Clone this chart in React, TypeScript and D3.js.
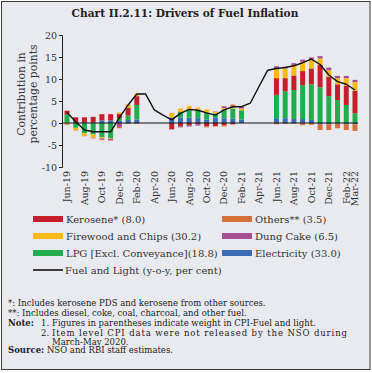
import { useEffect, useRef } from 'react';
import * as d3 from 'd3';

const months = [
  'Jun-19', 'Jul-19', 'Aug-19', 'Sep-19', 'Oct-19', 'Nov-19', 'Dec-19', 'Jan-20', 'Feb-20',
  'Mar-20', 'Apr-20', 'May-20', 'Jun-20', 'Jul-20', 'Aug-20', 'Sep-20', 'Oct-20', 'Nov-20',
  'Dec-20', 'Jan-21', 'Feb-21', 'Mar-21', 'Apr-21', 'May-21', 'Jun-21', 'Jul-21', 'Aug-21',
  'Sep-21', 'Oct-21', 'Nov-21', 'Dec-21', 'Jan-22', 'Feb-22', 'Mar-22',
];

const tickMonths = [
  'Jun-19', 'Aug-19', 'Oct-19', 'Dec-19', 'Feb-20', 'Apr-20', 'Jun-20', 'Aug-20', 'Oct-20',
  'Dec-20', 'Feb-21', 'Apr-21', 'Jun-21', 'Aug-21', 'Oct-21', 'Dec-21', 'Feb-22', 'Mar-22',
];

const yTicks = [-10, -5, 0, 5, 10, 15, 20];

// item level contributions (null = data not available)
const electricity = [0.1, 0.1, 0.1, 0.1, 0.6, 0.6, 0.5, 0.7, 0.8, null, null, null, 1.2, 1.2, 1.2, 1.1, 0.8, 1.3, 1.1, 1.0, 0.8, null, null, null, 1.1, 1.1, 0.9, 0.9, 0.7, -0.3, -0.3, -0.2, -0.3, -0.3];
const lpg = [1.8, -1.1, -2.3, -2.6, -3.2, -3.5, 0.6, 1.0, 3.3, null, null, null, 0.1, 1.3, 1.8, 1.9, 1.5, 0.9, 1.9, 2.3, 2.1, null, null, null, 5.3, 6.1, 6.6, 7.7, 8.1, 8.1, 6.1, 5.2, 4.1, 2.2];
const kerosene = [0.9, 1.2, 1.2, 1.3, 1.4, 1.4, 1.0, 1.7, 2.0, null, null, null, -1.4, -0.8, -0.6, -0.3, -0.8, -0.7, -0.5, -0.3, 0.0, null, null, null, 3.8, 3.0, 3.3, 3.2, 3.6, 5.1, 4.4, 3.6, 4.4, 5.1];
const firewood = [-0.2, -0.5, -0.6, -0.7, -0.3, -0.1, 0.3, 0.9, 0.6, null, null, null, 0.9, 0.8, 0.9, 0.5, 0.8, 0.3, 0.4, 0.5, 0.4, null, null, null, 2.3, 2.2, 2.3, 2.1, 2.1, 1.5, 1.5, 1.4, 1.7, 2.0];
const dungCake = [0.0, 0.0, 0.0, 0.0, -0.3, -0.3, -0.9, 0.0, 0.0, null, null, null, -0.1, -0.2, -0.2, -0.3, 0.0, 0.1, 0.4, 0.0, 0.4, null, null, null, 0.4, 0.4, 0.5, 0.5, 0.4, 0.5, 0.6, 0.5, 0.5, 0.5];
const others = [-0.2, -0.1, -0.1, -0.2, -0.1, -0.1, -0.3, -0.2, -0.2, null, null, null, 0.1, 0.0, 0.0, 0.0, -0.2, -0.1, -0.3, 0.4, 0.0, null, null, null, -0.3, -0.2, -0.2, -0.5, -0.4, -1.3, -1.3, -1.0, -1.3, -1.5];

// Fuel and Light inflation (y-o-y, per cent)
const fuelLight = [2.4, 0.3, -1.6, -2.0, -2.0, -2.0, 1.2, 4.1, 6.6, 6.6, 3.0, 1.8, 0.7, 2.2, 3.1, 2.9, 2.3, 1.8, 3.0, 3.7, 3.7, 4.5, 8.3, 12.0, 12.4, 12.6, 13.0, 13.7, 14.5, 13.3, 10.9, 9.4, 8.8, 7.5];

const series = [
  { key: 'electricity', values: electricity, color: '#3b6db5', label: 'Electricity (33.0)' },
  { key: 'lpg', values: lpg, color: '#1fae4b', label: 'LPG [Excl. Conveyance](18.8)' },
  { key: 'kerosene', values: kerosene, color: '#c41f2b', label: 'Kerosene* (8.0)' },
  { key: 'firewood', values: firewood, color: '#fbb917', label: 'Firewood and Chips (30.2)' },
  { key: 'dungCake', values: dungCake, color: '#a64f95', label: 'Dung Cake (6.5)' },
  { key: 'others', values: others, color: '#d5703a', label: 'Others** (3.5)' },
];

const legendLeft = ['kerosene', 'firewood', 'lpg'];
const legendRight = ['others', 'dungCake', 'electricity'];

const W = 372;
const H = 373;
const FONT = '"DejaVu Serif", serif';

export default function App() {
  const svgRef = useRef<SVGSVGElement>(null);

  useEffect(() => {
    if (!svgRef.current) return;
    const svg = d3.select(svgRef.current);
    svg.selectAll('*').remove();

    svg.append('rect')
      .attr('x', 1.5).attr('y', 1.5).attr('width', W - 3.5).attr('height', H - 5)
      .attr('fill', '#e9eaef').attr('stroke', '#3a3a3a').attr('stroke-width', 1);

    svg.append('text')
      .attr('x', 185).attr('y', 17)
      .attr('text-anchor', 'middle')
      .style('font-family', FONT).style('font-weight', 'bold').style('font-size', '10.6px')
      .style('fill', '#222')
      .text('Chart II.2.11: Drivers of Fuel Inflation');

    const x = d3.scalePoint<string>().domain(months).range([67, 355]);
    const y = d3.scaleLinear().domain([-10, 20]).range([167, 35]);

    // stacked bars
    const rows = months
      .map((m, i) => {
        const r: Record<string, any> = { month: m };
        series.forEach(s => { r[s.key] = s.values[i]; });
        return r;
      })
      .filter(r => r.electricity !== null);

    const stack = d3.stack<Record<string, any>>()
      .keys(series.map(s => s.key))
      .offset(d3.stackOffsetDiverging);
    const stacked = stack(rows);
    const barW = 5;

    stacked.forEach((layer, li) => {
      svg.append('g')
        .selectAll('rect')
        .data(layer)
        .enter()
        .append('rect')
        .attr('x', d => x(d.data.month)! - barW / 2)
        .attr('y', d => y(Math.max(d[0], d[1])))
        .attr('width', barW)
        .attr('height', d => Math.abs(y(d[0]) - y(d[1])))
        .attr('fill', series[li].color);
    });

    // zero line
    svg.append('line')
      .attr('x1', 62).attr('x2', 358)
      .attr('y1', y(0)).attr('y2', y(0))
      .attr('stroke', '#111').attr('stroke-width', 1);

    // y axis
    const yAxis = svg.append('g')
      .attr('transform', 'translate(62,0)')
      .call(d3.axisLeft(y).tickValues(yTicks).tickSize(3).tickPadding(2).tickFormat(d => `${d}`));
    yAxis.select('.domain').attr('stroke', '#222');
    yAxis.selectAll('.tick line').attr('stroke', '#222');
    yAxis.selectAll('text')
      .style('font-family', FONT).style('font-size', '9.5px').style('fill', '#333');

    const yTitle = svg.append('text')
      .attr('transform', 'translate(29,94) rotate(-90)')
      .attr('text-anchor', 'middle')
      .style('font-family', FONT).style('font-size', '10.8px').style('fill', '#333');
    yTitle.append('tspan').attr('x', 0).attr('dy', -4).text('Contribution in');
    yTitle.append('tspan').attr('x', 0).attr('dy', 11.5).text('percentage points');

    // x labels
    svg.append('g')
      .selectAll('text')
      .data(tickMonths)
      .enter()
      .append('text')
      .attr('transform', d => `translate(${x(d)},171) rotate(-90)`)
      .attr('text-anchor', 'end')
      .attr('dy', '0.35em')
      .style('font-family', FONT).style('font-size', '9.5px').style('fill', '#333')
      .text(d => d);

    // line
    const line = d3.line<number>()
      .x((_, i) => x(months[i])!)
      .y(d => y(d));
    svg.append('path')
      .attr('d', line(fuelLight))
      .attr('fill', 'none')
      .attr('stroke', '#111')
      .attr('stroke-width', 1.4)
      .attr('stroke-linejoin', 'round');

    // legend
    const legend = svg.append('g');
    const legendItem = (key: string, lx: number, ly: number) => {
      const s = series.find(d => d.key === key)!;
      legend.append('rect').attr('x', lx).attr('y', ly - 3).attr('width', 30).attr('height', 6).attr('fill', s.color);
      legend.append('text').attr('x', lx + 33).attr('y', ly + 3.5)
        .style('font-family', FONT).style('font-size', '10px').style('fill', '#333')
        .text(s.label);
    };
    legendLeft.forEach((k, i) => legendItem(k, 33, 219 + i * 17));
    legendRight.forEach((k, i) => legendItem(k, 222, 219 + i * 17));
    legend.append('line').attr('x1', 33).attr('x2', 63).attr('y1', 270).attr('y2', 270)
      .attr('stroke', '#111').attr('stroke-width', 1.6);
    legend.append('text').attr('x', 65).attr('y', 273.5)
      .style('font-family', FONT).style('font-size', '10px').style('fill', '#333')
      .text('Fuel and Light (y-o-y, per cent)');

    // notes
    const notes = svg.append('g')
      .style('font-family', FONT).style('font-size', '8.5px').style('fill', '#222');
    notes.append('text').attr('x', 8).attr('y', 306).text('*: Includes kerosene PDS and kerosene from other sources.');
    notes.append('text').attr('x', 8).attr('y', 316).text('**: Includes diesel, coke, coal, charcoal, and other fuel.');
    notes.append('text').attr('x', 8).attr('y', 325.5).style('font-weight', 'bold').text('Note:');
    notes.append('text').attr('x', 41).attr('y', 325.5).text('1.');
    notes.append('text').attr('x', 52).attr('y', 325.5).text('Figures in parentheses indicate weight in CPI-Fuel and light.');
    notes.append('text').attr('x', 41).attr('y', 336).text('2.');
    notes.append('text').attr('x', 52).attr('y', 336).attr('textLength', 295).attr('lengthAdjust', 'spacing')
      .text('Item level CPI data were not released by the NSO during');
    notes.append('text').attr('x', 52).attr('y', 344.5).text('March-May 2020.');
    const src = notes.append('text').attr('x', 8).attr('y', 353);
    src.append('tspan').style('font-weight', 'bold').text('Source:');
    src.append('tspan').text(' NSO and RBI staff estimates.');
  }, []);

  return (
    <svg
      ref={svgRef}
      width={W}
      height={H}
      style={{ position: 'absolute', left: 0, top: 0, display: 'block' }}
    />
  );
}
